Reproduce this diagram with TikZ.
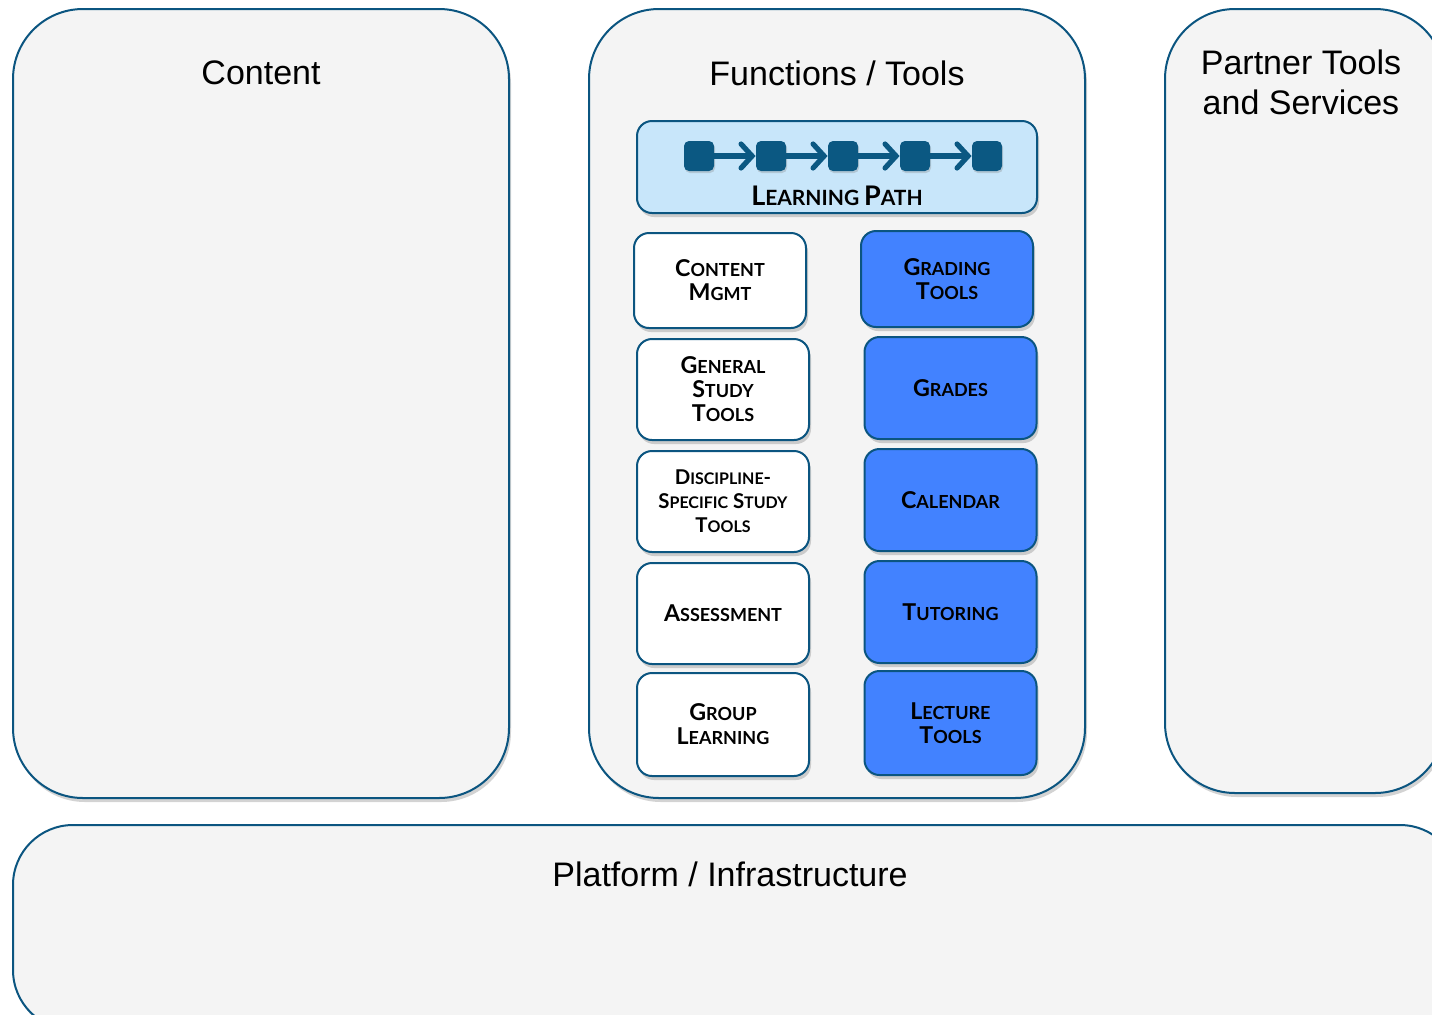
\documentclass[tikz,border=0pt]{standalone}
\usepackage{fontspec}
\setmainfont{Liberation Sans}
\newfontfamily\capsfont{Lato}
\usetikzlibrary{positioning,shadows,arrows.meta}
\definecolor{edgeblue}{RGB}{11,85,128}
\definecolor{areagray}{RGB}{244,244,244}
\definecolor{pathblue}{RGB}{200,230,250}
\definecolor{toolblue}{RGB}{66,130,255}
\definecolor{iconblue}{RGB}{11,88,130}
% fake small caps: first letter, rest of the word
\newcommand\smc[2]{{\fontsize{11.6}{12.5}\selectfont #1}{\fontsize{9}{12.5}\selectfont #2}}
\newcommand\smcs[2]{{\fontsize{10.2}{11}\selectfont #1}{\fontsize{8}{11}\selectfont #2}}
\newcommand\smcl[2]{{\fontsize{13.5}{14}\selectfont #1}{\fontsize{10.5}{14}\selectfont #2}}

\begin{document}
\begin{tikzpicture}[x=0.5pt, y=-0.5pt,
	shade/.style={drop shadow={shadow xshift=1pt, shadow yshift=-2pt, opacity=0.35}},
	area/.style={draw=edgeblue, line width=1pt, fill=areagray, rounded corners=35pt, shade},
	title/.style={font=\fontsize{17}{20}\selectfont, align=center},
	tool/.style={draw=edgeblue, line width=1pt, rounded corners=7.5pt, minimum width=86pt,
		align=center, font=\capsfont\bfseries, shade},
	whitetool/.style={tool, fill=white},
	bluetool/.style={tool, fill=toolblue},
	icon/.style={fill=iconblue, rounded corners=2.5pt, minimum size=15pt, inner sep=0pt,
		drop shadow={shadow xshift=0.5pt, shadow yshift=-1pt, opacity=0.3}},
	flow/.style={draw=iconblue, line width=2.6pt, -{Straight Barb[length=5.5pt, width=12pt, line cap=round]}}
]
\useasboundingbox (0,0) rectangle (1432,1014);
\clip (0,0) rectangle (1432,1014);

% big areas
\node [area, minimum width=248pt, minimum height=394.5pt] (content) at (261,403.5) {};
\node [area, minimum width=248pt, minimum height=394.5pt] (functions) at (837,403.5) {};
\node [area, minimum width=140pt, minimum height=392pt] (partner) at (1305,401) {};
\node [area, rounded corners=30pt, minimum width=723.5pt, minimum height=102.5pt] (platform) at (736.5,927.5) {};

\node [title] (contenttitle) at (261,73) {Content};
\node [title] (functionstitle) at (837,73) {Functions / Tools};
\node [title, text depth=0pt] (partnertitle) at (1301,82) {Partner Tools\\and Services};
\node [title] (platformtitle) at (730,874) {Platform / Infrastructure};

% learning path
\node [draw=edgeblue, line width=1pt, fill=pathblue, rounded corners=7.5pt,
	minimum width=200pt, minimum height=46pt, shade] (lpath) at (837,167) {};
\foreach \i/\x in {1/699,2/771,3/843,4/915,5/987}
	\node [icon] (s\i) at (\x,156) {};
\foreach \i [count=\j from 2] in {1,...,4}
	\draw [flow] (s\i) -- (s\j);
\node [font=\capsfont\bfseries] (lptext) at (837,196) {\smcl{L}{EARNING} \smcl{P}{ATH}};

% tools, left column
\node [whitetool, minimum height=47.5pt] (cmgmt) at (720,280.5) {\smc{C}{ONTENT}\\\smc{M}{GMT}};
\node [whitetool, minimum height=50.5pt] (gstudy) at (723,389.5) {\smc{G}{ENERAL}\\\smc{S}{TUDY}\\\smc{T}{OOLS}};
\node [whitetool, minimum height=50.5pt] (dstudy) at (723,501.5) {\smcs{D}{ISCIPLINE}-\\\smcs{S}{PECIFIC} \smcs{S}{TUDY}\\\smcs{T}{OOLS}};
\node [whitetool, minimum height=50.5pt] (assess) at (723,613.5) {\smc{A}{SSESSMENT}};
\node [whitetool, minimum height=51.5pt] (group) at (723,724.5) {\smc{G}{ROUP}\\\smc{L}{EARNING}};

% tools, right column
\node [bluetool, minimum height=48pt] (grading) at (947,279) {\smc{G}{RADING}\\\smc{T}{OOLS}};
\node [bluetool, minimum height=51pt] (grades) at (950.5,388) {\smc{G}{RADES}};
\node [bluetool, minimum height=51pt] (calendar) at (950.5,500) {\smc{C}{ALENDAR}};
\node [bluetool, minimum height=51pt] (tutoring) at (950.5,612) {\smc{T}{UTORING}};
\node [bluetool, minimum height=52pt] (lecture) at (950.5,723) {\smc{L}{ECTURE}\\\smc{T}{OOLS}};
\end{tikzpicture}
\end{document}
